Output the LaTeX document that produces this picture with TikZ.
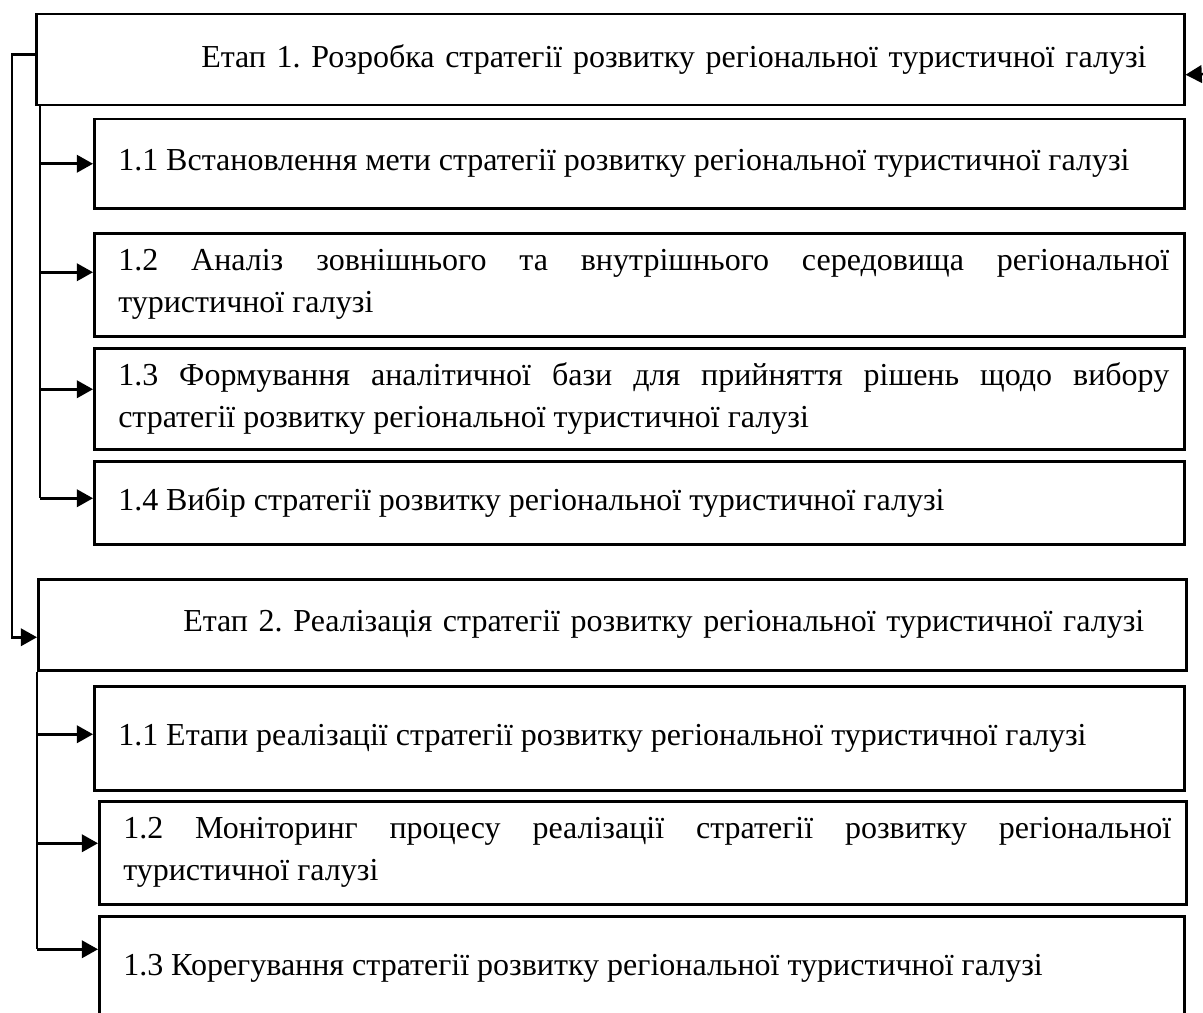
\documentclass[tikz,border=0pt]{standalone}
\usepackage{fontspec}
\setmainfont{Liberation Serif}
\usetikzlibrary{arrows.meta}
\hyphenpenalty=10000
\frenchspacing
\begin{document}
\begin{tikzpicture}[x=0.4pt, y=-0.4pt, line width=1pt,
    every node/.style = {shape=rectangle, draw, anchor=north west, inner ysep=2pt,
                         font=\fontsize{12.8}{16.8}\selectfont},
    stage/.style = {minimum width=459.2pt, text width=447.2pt, inner xsep=6pt, align=left},
    task/.style = {minimum width=#1, text width=#1-12pt, inner xsep=6pt, align=justify,
                   execute at begin node={\leftskip=3.6pt}},
    arr/.style = {-{Triangle[length=6.5pt, width=7pt]}}]
    \useasboundingbox (0,0) rectangle (1203,1012);
    % stage 1
    \node[stage, minimum height=36.4pt] (stA) at (35,13)
        {\hspace*{60pt}Етап 1. Розробка стратегії розвитку регіональної туристичної галузі};
    \node[task=436pt, minimum height=35.6pt] (a1) at (93,118)
        {1.1 Встановлення мети стратегії розвитку регіональної туристичної галузі};
    \node[task=436pt, minimum height=41.2pt] (a2) at (93,232)
        {1.2 Аналіз зовнішнього та внутрішнього середовища регіональної\linebreak туристичної галузі};
    \node[task=436pt, minimum height=40.4pt] (a3) at (93,347)
        {1.3 Формування аналітичної бази для прийняття рішень щодо вибору\linebreak стратегії розвитку регіональної туристичної галузі};
    \node[task=436pt, minimum height=33.2pt] (a4) at (93,460)
        {1.4 Вибір стратегії розвитку регіональної туристичної галузі};
    % stage 2
    \node[stage, minimum height=36.4pt] (stB) at (37,578)
        {\hspace*{52pt}Етап 2. Реалізація стратегії розвитку регіональної туристичної галузі};
    \node[task=436pt, minimum height=41.6pt] (b1) at (93,685)
        {1.1 Етапи реалізації стратегії розвитку регіональної туристичної галузі};
    \node[task=434.8pt, minimum height=41.2pt] (b2) at (98,800)
        {1.2 Моніторинг процесу реалізації стратегії розвитку регіональної\linebreak туристичної галузі};
    \node[task=434pt, minimum height=42pt] (b3) at (98,915)
        {1.3 Корегування стратегії розвитку регіональної туристичної галузі};

    \coordinate (rin) at (1203,74);
    \coordinate (spA) at ([xshift=2pt]stA.south west);
    \coordinate (spB) at (stB.south west);
    \coordinate (ea1) at (a1.west);
    \coordinate (ea2) at ([yshift=5pt]a2.west);
    \coordinate (ea3) at ([yshift=3.8pt]a3.west);
    \coordinate (ea4) at ([yshift=1.8pt]a4.west);
    \coordinate (eb1) at ([yshift=1.6pt]b1.west);
    \coordinate (eb2) at ([yshift=3.8pt]b2.west);
    \coordinate (eb3) at ([yshift=7.8pt]b3.west);

    % feedback and transition
    \draw[arr] (rin) -- ([yshift=-6pt]stA.east);
    \draw[arr] ([yshift=2pt]stA.west) -- ++(-23,0) |- ([yshift=-5pt]stB.west);
    % stage 1 branches
    \draw (spA) -- (spA |- ea4);
    \foreach \t in {ea1,ea2,ea3,ea4}
        \draw[arr] (spA |- \t) -- (\t);
    % stage 2 branches
    \draw (spB) -- (spB |- eb3);
    \foreach \t in {eb1,eb2,eb3}
        \draw[arr] (spB |- \t) -- (\t);
\end{tikzpicture}
\end{document}
